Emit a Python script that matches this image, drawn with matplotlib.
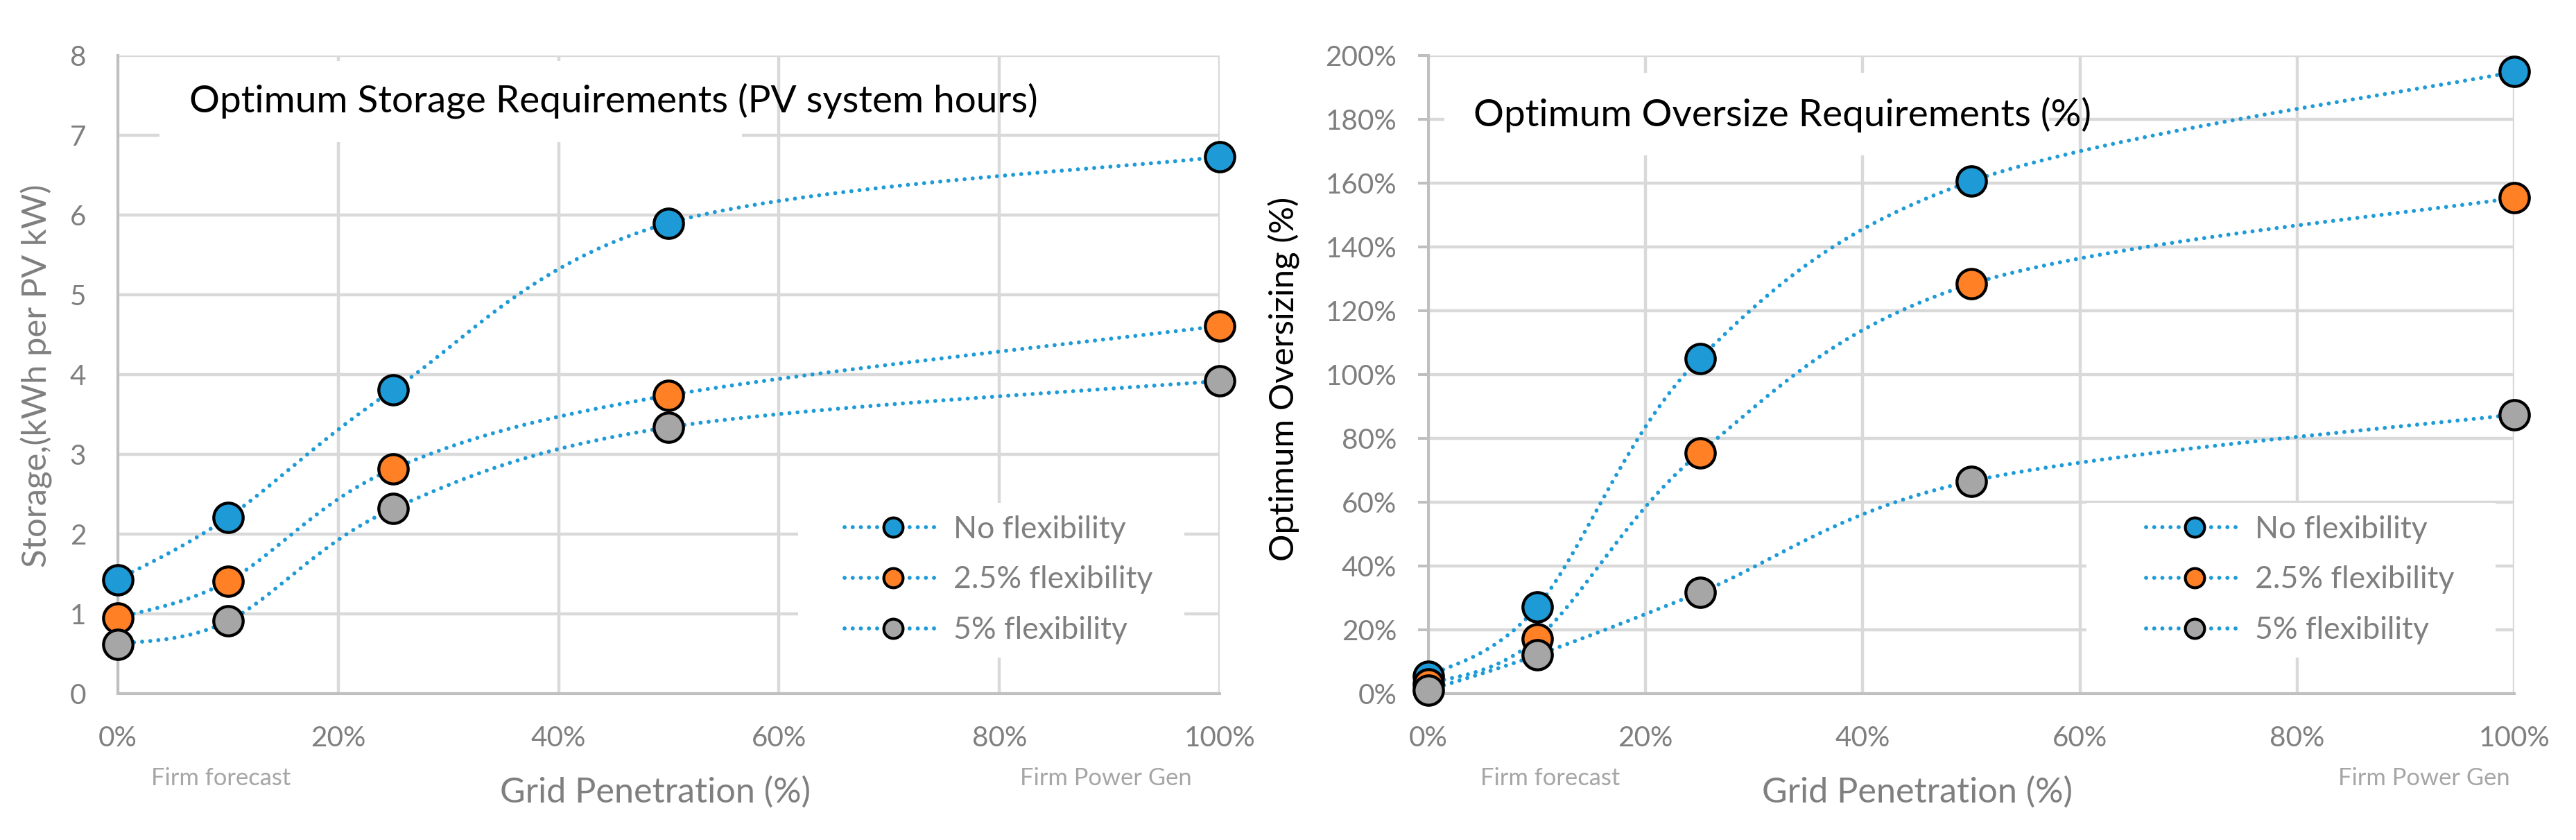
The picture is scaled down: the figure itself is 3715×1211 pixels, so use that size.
# storage_oversize_requirements.py
#

from matplotlib import pyplot as plt
from matplotlib.lines import Line2D
from matplotlib.patches import Rectangle
from matplotlib.ticker import PercentFormatter
import numpy as np

plt.rcParams['font.family'] = ['Lato', 'DejaVu Sans']

# grid penetration of each case (fraction)
penetration = [0.0, 0.10, 0.25, 0.50, 1.00]
series_names = ['No flexibility', '2.5% flexibility', '5% flexibility']

# optimum storage (kWh per PV kW)
storage_no_flex = [1.43, 2.21, 3.81, 5.90, 6.73]
storage_flex_25 = [0.95, 1.41, 2.82, 3.74, 4.61]
storage_flex_5 = [0.62, 0.91, 2.32, 3.34, 3.92]

# optimum oversizing (fraction)
oversize_no_flex = [0.054, 0.272, 1.051, 1.606, 1.949]
oversize_flex_25 = [0.030, 0.172, 0.755, 1.284, 1.554]
oversize_flex_5 = [0.011, 0.121, 0.317, 0.666, 0.875]

x_ticks = [0.0, 0.2, 0.4, 0.6, 0.8, 1.0]

line_blue = '#1E9BD7'
fills = ['#1E9BD7', '#FF8025', '#A6A6A6']
grid_col = '#D9D9D9'
axis_col = '#BFBFBF'
text_gray = '#7F7F7F'
light_gray = '#A6A6A6'
dotted = (0, (0.01, 2.0))

W, H = 3715, 1211
fig = plt.figure(figsize=(W / 100, H / 100), dpi=100)
renderer = fig.canvas.get_renderer()


def fpos(x, y):
	# pixel position (from top left) -> figure fraction
	return x / W, 1 - y / H


def fit_size(text, width_px, size=30):
	# font size that makes the text about width_px wide (widths)
	t = fig.text(0, 0, text, fontsize=size)
	w = t.get_window_extent(renderer).width
	t.remove()
	return size * width_px / w


def white_box(ax, x0, y0, x1, y1):
	# white box (pixel coords) that hides the gridlines behind text
	fx, fy = fpos(x0, y1)
	r = Rectangle((fx, fy), (x1 - x0) / W, (y1 - y0) / H, transform=fig.transFigure,
				  facecolor='white', edgecolor='none', zorder=1.5, clip_on=False)
	ax.add_patch(r)


def smooth_curve(ax, xs, ys, n=60):
	# excel style smoothed line: bezier through the points, built in screen space
	pts = ax.transData.transform(np.column_stack([xs, ys]))
	m = len(pts)
	out = []
	t = np.linspace(0, 1, n)[:, None]
	for i in range(m - 1):
		p0 = pts[max(i - 1, 0)]
		p1 = pts[i]
		p2 = pts[i + 1]
		p3 = pts[min(i + 2, m - 1)]
		c1 = p1 + (p2 - p0) / 6
		c2 = p2 - (p3 - p1) / 6
		seg = (1 - t)**3 * p1 + 3 * (1 - t)**2 * t * c1 + 3 * (1 - t) * t**2 * c2 + t**3 * p2
		out.append(seg if i == 0 else seg[1:])
	return ax.transData.inverted().transform(np.vstack(out))


tick_size = fit_size('180%', 103)
legend_size = fit_size('2.5% flexibility', 287)
title_size = fit_size('Optimum Storage Requirements (PV system hours)', 1224)
xlabel_size = fit_size('Grid Penetration (%)', 448)
note_size = fit_size('Firm Power Gen', 247)
ylabel_left_size = fit_size('Storage,(kWh per PV kW)', 552)
ylabel_right_size = fit_size('Optimum Oversizing (%)', 525)


def setup_axes(rect, ylim, yticks, y_ticklen):
	ax = fig.add_axes(rect)
	ax.set_xlim(0, 1)
	ax.set_ylim(*ylim)
	ax.set_xticks(x_ticks)
	ax.set_yticks(yticks)
	ax.xaxis.set_major_formatter(PercentFormatter(1.0, decimals=0))
	ax.set_axisbelow(True)
	ax.grid(True, color=grid_col, linewidth=3.2)
	for s in ['top', 'right']:
		ax.spines[s].set_visible(False)
	for s in ['left', 'bottom']:
		ax.spines[s].set_color(axis_col)
		ax.spines[s].set_linewidth(2.9)
		ax.spines[s].set_zorder(1.6)
	ax.tick_params(axis='x', length=0, pad=33, labelsize=tick_size, labelcolor=text_gray)
	ax.tick_params(axis='y', length=y_ticklen, width=2.9, color=axis_col,
				   pad=33 - y_ticklen, labelsize=tick_size, labelcolor=text_gray)
	return ax


def draw_series(ax, ys_list):
	for ys in ys_list:
		curve = smooth_curve(ax, penetration, ys)
		ax.plot(curve[:, 0], curve[:, 1], color=line_blue, linewidth=4.2,
				linestyle=dotted, dash_capstyle='round', zorder=3, clip_on=False)
	for ys, fc in zip(ys_list, fills):
		ax.plot(penetration, ys, linestyle='none', marker='o', markersize=30.5,
				markerfacecolor=fc, markeredgecolor='black', markeredgewidth=3.1,
				zorder=4, clip_on=False)


def add_legend(ax, x_px, y_px):
	handles = []
	for fc in fills:
		handles.append(Line2D([], [], color=line_blue, linewidth=4.2, linestyle=dotted,
							  dash_capstyle='round', marker='o', markersize=20,
							  markerfacecolor=fc, markeredgecolor='black', markeredgewidth=3))
	fs_px = legend_size * 100 / 72
	leg = ax.legend(handles, series_names, loc='center left', bbox_to_anchor=fpos(x_px, y_px),
					bbox_transform=fig.transFigure, frameon=False, fontsize=legend_size,
					handlelength=139 / fs_px, handletextpad=18 / fs_px,
					labelspacing=74 / fs_px - 0.95, borderpad=0, borderaxespad=0)
	for t in leg.get_texts():
		t.set_color(text_gray)
	leg.set_zorder(5)


# left chart: storage
ax1 = setup_axes([170 / W, 211 / H, 1589 / W, 920 / H], (0, 8), range(0, 9), 0)
white_box(ax1, 230, 88, 1070, 205)
white_box(ax1, 1151, 725, 1708, 948)
draw_series(ax1, [storage_no_flex, storage_flex_25, storage_flex_5])
add_legend(ax1, 1218, 836)

# right chart: oversizing
ax2 = setup_axes([2060 / W, 211 / H, 1566 / W, 920 / H], (0, 2), np.arange(0, 2.01, 0.2), 11)
ax2.yaxis.set_major_formatter(PercentFormatter(1.0, decimals=0))
white_box(ax2, 2083, 105, 2955, 224)
white_box(ax2, 3009, 725, 3599, 948)
draw_series(ax2, [oversize_no_flex, oversize_flex_25, oversize_flex_5])
add_legend(ax2, 3095, 836)

# titles inside the plots
fig.text(*fpos(273, 145), 'Optimum Storage Requirements (PV system hours)', fontsize=title_size,
		 color='black', ha='left', va='center', zorder=6)
fig.text(*fpos(2125, 165), 'Optimum Oversize Requirements (%)', fontsize=title_size,
		 color='black', ha='left', va='center', zorder=6)

# axis labels
fig.text(*fpos(53, 542), 'Storage,(kWh per PV kW)', fontsize=ylabel_left_size, color=text_gray,
		 rotation=90, ha='center', va='center')
fig.text(*fpos(1852, 546), 'Optimum Oversizing (%)', fontsize=ylabel_right_size, color='black',
		 rotation=90, ha='center', va='center')
for cx in [945, 2765]:
	fig.text(*fpos(cx, 1142), 'Grid Penetration (%)', fontsize=xlabel_size, color=text_gray,
			 ha='center', va='center')

# notes under the x axis
for cx in [319, 2236]:
	fig.text(*fpos(cx, 1122), 'Firm forecast', fontsize=note_size, color=light_gray,
			 ha='center', va='center')
for cx in [1595, 3496]:
	fig.text(*fpos(cx, 1122), 'Firm Power Gen', fontsize=note_size, color=light_gray,
			 ha='center', va='center')

plt.savefig('out.png', dpi=100)
